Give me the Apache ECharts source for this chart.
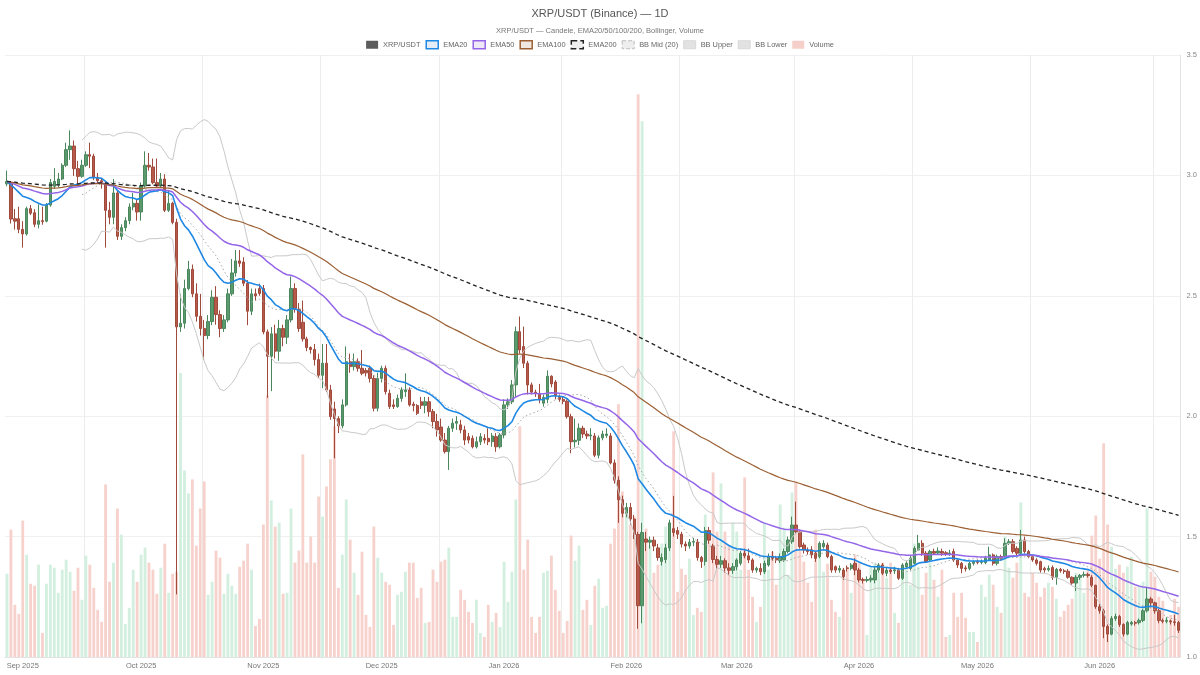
<!DOCTYPE html>
<html>
<head>
<meta charset="utf-8">
<title>XRP/USDT (Binance) — 1D</title>
<script src="https://cdn.jsdelivr.net/npm/echarts@6/dist/echarts.min.js"></script>
<style>
  html, body { margin: 0; padding: 0; background: #fff; }
  #chart { width: 1200px; height: 675px; }
</style>
</head>
<body>
<div id="chart"></div>
<script>
// first day of the daily series
const startDate = '2025-08-28';
const monthNames = ['Jan', 'Feb', 'Mar', 'Apr', 'May', 'Jun', 'Jul', 'Aug', 'Sep', 'Oct', 'Nov', 'Dec'];

// daily candles: [open, close, low, high]
const candles = [
  [2.965, 2.975, 2.955, 3.02], [2.97, 2.819, 2.80, 2.975], [2.82, 2.81, 2.775, 2.86], [2.82, 2.776, 2.76, 2.87],
  [2.776, 2.757, 2.70, 2.81], [2.757, 2.862, 2.75, 2.87], [2.862, 2.843, 2.835, 2.877], [2.845, 2.797, 2.785, 2.86],
  [2.797, 2.812, 2.78, 2.88], [2.812, 2.808, 2.795, 2.87], [2.81, 2.877, 2.805, 2.885], [2.877, 2.97, 2.87, 2.985],
  [2.955, 2.975, 2.945, 3.03], [2.96, 2.985, 2.95, 3.01], [2.985, 3.042, 2.98, 3.05], [3.042, 3.107, 3.035, 3.136],
  [3.107, 3.122, 3.065, 3.187], [3.122, 3.028, 2.998, 3.145], [3.028, 2.996, 2.955, 3.06], [2.996, 3.042, 2.99, 3.065],
  [3.042, 3.086, 3.035, 3.10], [3.086, 3.08, 3.03, 3.136], [3.08, 2.992, 2.98, 3.09], [2.992, 2.978, 2.965, 3.01],
  [2.978, 2.97, 2.945, 2.99], [2.963, 2.855, 2.70, 2.975], [2.855, 2.826, 2.797, 2.89], [2.826, 2.927, 2.797, 2.985],
  [2.927, 2.747, 2.732, 2.94], [2.747, 2.783, 2.732, 2.797], [2.783, 2.812, 2.768, 2.826], [2.812, 2.869, 2.797, 2.884],
  [2.869, 2.884, 2.855, 2.927], [2.884, 2.848, 2.812, 2.90], [2.848, 2.956, 2.812, 2.97], [2.956, 3.042, 2.949, 3.10],
  [3.042, 3.035, 3.02, 3.093], [3.035, 2.97, 2.963, 3.07], [2.97, 2.956, 2.949, 3.07], [2.956, 2.985, 2.95, 3.01],
  [2.985, 2.855, 2.848, 3.005], [2.855, 2.884, 2.848, 2.94], [2.884, 2.805, 2.797, 2.89], [2.805, 2.371, 1.26, 2.82],
  [2.371, 2.386, 2.35, 2.508], [2.386, 2.53, 2.364, 2.567], [2.53, 2.61, 2.523, 2.645], [2.61, 2.508, 2.494, 2.63],
  [2.508, 2.415, 2.393, 2.552], [2.415, 2.364, 2.335, 2.508], [2.364, 2.335, 2.234, 2.40], [2.335, 2.393, 2.32, 2.42],
  [2.393, 2.494, 2.378, 2.523], [2.494, 2.422, 2.38, 2.54], [2.422, 2.364, 2.328, 2.44], [2.364, 2.40, 2.35, 2.42],
  [2.40, 2.508, 2.39, 2.53], [2.508, 2.595, 2.50, 2.653], [2.595, 2.645, 2.58, 2.69], [2.645, 2.635, 2.62, 2.69],
  [2.64, 2.552, 2.54, 2.66], [2.552, 2.436, 2.378, 2.565], [2.436, 2.508, 2.42, 2.53], [2.508, 2.50, 2.48, 2.53],
  [2.53, 2.51, 2.50, 2.55], [2.53, 2.35, 2.34, 2.545], [2.35, 2.249, 2.076, 2.36], [2.249, 2.342, 2.104, 2.37],
  [2.342, 2.27, 2.24, 2.38], [2.27, 2.364, 2.23, 2.40], [2.364, 2.328, 2.29, 2.38], [2.328, 2.40, 2.30, 2.42],
  [2.40, 2.53, 2.39, 2.58], [2.53, 2.444, 2.43, 2.552], [2.444, 2.364, 2.35, 2.47], [2.39, 2.321, 2.31, 2.48],
  [2.321, 2.285, 2.27, 2.33], [2.285, 2.277, 2.26, 2.29], [2.277, 2.235, 2.21, 2.30], [2.235, 2.17, 2.16, 2.26],
  [2.17, 2.22, 2.116, 2.30], [2.22, 2.109, 2.10, 2.30], [2.109, 1.998, 1.985, 2.13], [2.03, 1.99, 1.825, 2.06],
  [1.99, 1.96, 1.93, 2.0], [1.96, 2.047, 1.95, 2.07], [2.047, 2.226, 2.04, 2.29], [2.226, 2.206, 2.18, 2.26],
  [2.206, 2.226, 2.19, 2.26], [2.226, 2.199, 2.185, 2.24], [2.199, 2.178, 2.17, 2.275], [2.19, 2.18, 2.165, 2.20],
  [2.199, 2.157, 2.14, 2.21], [2.157, 2.033, 2.02, 2.17], [2.033, 2.157, 2.02, 2.18], [2.157, 2.199, 2.14, 2.21],
  [2.199, 2.102, 2.09, 2.21], [2.095, 2.04, 2.03, 2.11], [2.047, 2.04, 2.03, 2.07], [2.04, 2.074, 2.035, 2.09],
  [2.074, 2.109, 2.06, 2.12], [2.102, 2.109, 2.08, 2.178], [2.109, 2.047, 2.04, 2.12], [2.05, 2.044, 2.02, 2.06],
  [2.044, 2.012, 2.005, 2.05], [2.06, 2.045, 2.03, 2.08], [2.045, 2.06, 2.012, 2.08], [2.06, 2.019, 1.998, 2.08],
  [2.019, 1.978, 1.95, 2.03], [1.978, 1.943, 1.915, 2.01], [1.955, 1.901, 1.894, 1.99], [1.901, 1.853, 1.845, 1.93],
  [1.853, 1.95, 1.777, 1.96], [1.95, 1.971, 1.935, 1.99], [1.971, 1.978, 1.943, 2.0], [1.964, 1.943, 1.929, 1.985],
  [1.943, 1.901, 1.88, 1.96], [1.915, 1.901, 1.887, 1.93], [1.908, 1.873, 1.866, 1.92], [1.873, 1.894, 1.866, 1.915],
  [1.894, 1.915, 1.88, 1.93], [1.908, 1.901, 1.887, 1.925], [1.908, 1.894, 1.88, 1.95], [1.894, 1.918, 1.873, 1.93],
  [1.915, 1.873, 1.852, 1.93], [1.873, 1.922, 1.866, 1.93], [1.922, 2.047, 1.908, 2.07], [2.047, 2.06, 2.03, 2.074],
  [2.06, 2.13, 2.05, 2.15], [2.13, 2.351, 2.08, 2.372], [2.351, 2.275, 2.26, 2.414], [2.289, 2.22, 2.20, 2.372],
  [2.22, 2.13, 2.09, 2.23], [2.13, 2.10, 2.09, 2.14], [2.10, 2.094, 2.08, 2.11], [2.094, 2.07, 2.054, 2.134],
  [2.054, 2.078, 2.04, 2.09], [2.07, 2.166, 2.054, 2.19], [2.166, 2.134, 2.12, 2.17], [2.142, 2.086, 2.07, 2.15],
  [2.078, 2.07, 2.06, 2.09], [2.07, 2.062, 2.05, 2.08], [2.062, 1.998, 1.99, 2.07], [1.998, 1.894, 1.846, 2.01],
  [1.894, 1.90, 1.87, 1.99], [1.90, 1.95, 1.88, 1.97], [1.95, 1.926, 1.91, 1.96], [1.926, 1.918, 1.905, 1.94],
  [1.918, 1.922, 1.90, 1.95], [1.918, 1.838, 1.83, 1.93], [1.838, 1.91, 1.825, 1.92], [1.91, 1.926, 1.90, 1.94],
  [1.92, 1.926, 1.91, 1.95], [1.918, 1.806, 1.80, 1.93], [1.806, 1.734, 1.72, 1.82], [1.734, 1.653, 1.557, 1.75],
  [1.653, 1.597, 1.58, 1.67], [1.597, 1.621, 1.58, 1.64], [1.621, 1.573, 1.55, 1.64], [1.573, 1.509, 1.49, 1.59],
  [1.509, 1.213, 1.117, 1.52], [1.213, 1.517, 1.14, 1.557], [1.49, 1.477, 1.44, 1.52], [1.477, 1.485, 1.45, 1.50],
  [1.485, 1.461, 1.44, 1.50], [1.453, 1.413, 1.40, 1.47], [1.397, 1.413, 1.38, 1.43], [1.405, 1.453, 1.39, 1.47],
  [1.453, 1.557, 1.44, 1.57], [1.533, 1.517, 1.50, 1.669], [1.525, 1.51, 1.49, 1.54], [1.51, 1.469, 1.455, 1.52],
  [1.469, 1.461, 1.44, 1.48], [1.461, 1.477, 1.45, 1.49], [1.477, 1.48, 1.46, 1.495], [1.477, 1.413, 1.40, 1.49],
  [1.413, 1.397, 1.37, 1.42], [1.397, 1.525, 1.38, 1.54], [1.525, 1.485, 1.47, 1.54], [1.461, 1.405, 1.39, 1.47],
  [1.405, 1.385, 1.36, 1.42], [1.385, 1.40, 1.37, 1.42], [1.40, 1.37, 1.35, 1.41], [1.37, 1.36, 1.34, 1.39],
  [1.36, 1.375, 1.345, 1.39], [1.375, 1.403, 1.36, 1.41], [1.389, 1.431, 1.38, 1.44], [1.431, 1.42, 1.41, 1.45],
  [1.42, 1.403, 1.39, 1.45], [1.403, 1.361, 1.35, 1.41], [1.361, 1.368, 1.35, 1.375], [1.368, 1.354, 1.34, 1.389],
  [1.354, 1.389, 1.345, 1.40], [1.382, 1.417, 1.375, 1.43], [1.417, 1.41, 1.40, 1.44], [1.41, 1.403, 1.39, 1.42],
  [1.40, 1.417, 1.39, 1.43], [1.403, 1.438, 1.395, 1.45], [1.438, 1.486, 1.43, 1.50], [1.479, 1.548, 1.47, 1.583],
  [1.548, 1.52, 1.51, 1.645], [1.52, 1.458, 1.45, 1.53], [1.465, 1.444, 1.43, 1.475], [1.444, 1.438, 1.425, 1.455],
  [1.445, 1.424, 1.41, 1.46], [1.431, 1.41, 1.395, 1.44], [1.417, 1.472, 1.41, 1.48], [1.458, 1.472, 1.45, 1.485],
  [1.465, 1.417, 1.41, 1.475], [1.417, 1.361, 1.35, 1.425], [1.375, 1.361, 1.35, 1.38], [1.361, 1.368, 1.35, 1.38],
  [1.361, 1.334, 1.32, 1.37], [1.37, 1.368, 1.355, 1.38], [1.368, 1.382, 1.36, 1.39], [1.389, 1.361, 1.34, 1.41],
  [1.361, 1.32, 1.31, 1.37], [1.322, 1.318, 1.305, 1.33], [1.318, 1.322, 1.31, 1.335], [1.32, 1.327, 1.31, 1.34],
  [1.32, 1.361, 1.306, 1.375], [1.361, 1.382, 1.35, 1.39], [1.382, 1.348, 1.34, 1.39], [1.348, 1.361, 1.335, 1.37],
  [1.361, 1.355, 1.345, 1.37], [1.358, 1.362, 1.345, 1.375], [1.361, 1.327, 1.32, 1.37], [1.327, 1.382, 1.32, 1.39],
  [1.375, 1.389, 1.37, 1.40], [1.368, 1.41, 1.36, 1.42], [1.389, 1.451, 1.385, 1.46], [1.444, 1.472, 1.44, 1.507],
  [1.472, 1.431, 1.42, 1.485], [1.431, 1.396, 1.39, 1.44], [1.403, 1.438, 1.395, 1.445], [1.438, 1.431, 1.425, 1.45],
  [1.432, 1.44, 1.425, 1.455], [1.438, 1.431, 1.42, 1.45], [1.433, 1.428, 1.42, 1.44], [1.428, 1.432, 1.42, 1.445],
  [1.438, 1.403, 1.395, 1.45], [1.403, 1.382, 1.37, 1.41], [1.389, 1.368, 1.348, 1.395], [1.37, 1.366, 1.355, 1.38],
  [1.368, 1.389, 1.36, 1.395], [1.389, 1.396, 1.38, 1.40], [1.396, 1.393, 1.385, 1.405], [1.393, 1.396, 1.385, 1.405],
  [1.392, 1.41, 1.385, 1.42], [1.403, 1.424, 1.40, 1.458], [1.424, 1.389, 1.38, 1.43], [1.389, 1.417, 1.38, 1.425],
  [1.417, 1.41, 1.40, 1.425], [1.417, 1.472, 1.41, 1.493], [1.472, 1.479, 1.465, 1.49], [1.479, 1.438, 1.43, 1.49],
  [1.451, 1.431, 1.42, 1.46], [1.431, 1.486, 1.425, 1.528], [1.486, 1.438, 1.43, 1.50], [1.438, 1.417, 1.41, 1.445],
  [1.417, 1.403, 1.395, 1.42], [1.403, 1.389, 1.38, 1.41], [1.396, 1.361, 1.35, 1.40], [1.368, 1.362, 1.35, 1.375],
  [1.362, 1.368, 1.355, 1.38], [1.372, 1.331, 1.32, 1.38], [1.331, 1.364, 1.30, 1.37], [1.364, 1.358, 1.35, 1.37],
  [1.358, 1.355, 1.345, 1.365], [1.356, 1.331, 1.325, 1.365], [1.331, 1.307, 1.30, 1.335], [1.307, 1.331, 1.274, 1.34],
  [1.331, 1.339, 1.32, 1.345], [1.339, 1.343, 1.33, 1.355], [1.343, 1.338, 1.33, 1.35], [1.331, 1.298, 1.29, 1.34],
  [1.298, 1.209, 1.20, 1.30], [1.209, 1.192, 1.18, 1.22], [1.192, 1.127, 1.078, 1.20], [1.127, 1.095, 1.062, 1.135],
  [1.095, 1.16, 1.09, 1.17], [1.16, 1.168, 1.15, 1.18], [1.168, 1.135, 1.125, 1.175], [1.135, 1.095, 1.085, 1.14],
  [1.095, 1.143, 1.09, 1.15], [1.137, 1.143, 1.13, 1.15], [1.143, 1.14, 1.13, 1.15], [1.143, 1.152, 1.135, 1.16],
  [1.152, 1.192, 1.145, 1.20], [1.192, 1.241, 1.185, 1.29], [1.241, 1.225, 1.21, 1.25], [1.225, 1.192, 1.18, 1.23],
  [1.192, 1.152, 1.14, 1.20], [1.152, 1.148, 1.14, 1.16], [1.148, 1.152, 1.14, 1.165], [1.15, 1.146, 1.135, 1.155],
  [1.146, 1.143, 1.13, 1.175], [1.143, 1.111, 1.10, 1.15]
];

// daily volume (millions XRP)
const volumes = [
  83, 127, 52, 43, 136, 102, 73, 71, 92, 24, 73, 92, 89, 64, 87, 97, 85, 66, 89, 57, 101, 92, 69, 47, 35, 172, 75,
  94, 148, 122, 33, 49, 87, 75, 102, 109, 94, 87, 63, 89, 113, 64, 83, 85, 283, 186, 163, 177, 111, 148, 175, 62, 75,
  106, 99, 63, 83, 71, 63, 90, 96, 113, 87, 31, 38, 132, 261, 156, 130, 134, 63, 64, 148, 94, 106, 202, 94, 120,
  94, 160, 140, 170, 197, 230, 69, 102, 157, 117, 84, 62, 105, 42, 30, 130, 99, 84, 75, 72, 32, 62, 65, 85, 94, 94, 59,
  69, 34, 35, 87, 75, 95, 97, 109, 40, 40, 67, 57, 45, 34, 57, 24, 20, 52, 35, 44, 30, 95, 55, 85, 157, 230, 87, 117,
  40, 24, 40, 84, 86, 101, 67, 46, 24, 36, 121, 96, 111, 47, 57, 32, 71, 78, 49, 51, 113, 128, 252, 165, 148, 132, 140,
  561, 534,
  128, 111, 84, 92, 113, 130, 121, 225, 65, 88, 82, 98, 42, 49, 45, 142, 115, 184, 125, 173, 125, 111, 134,
  125, 87, 179, 87, 60, 35, 50, 134, 87, 105, 72, 152, 129, 82, 164, 175, 107, 95, 74, 55, 127, 105, 85, 93, 57, 45, 40, 85,
  90, 64, 102, 94, 77, 22, 90, 94, 84, 94, 79, 94, 44, 34, 87, 94, 72, 113, 90, 62, 84, 94, 77, 60, 87,
  20, 22, 64, 40, 64, 39, 25, 25, 15, 72, 60, 82, 72, 50, 44, 120, 89, 79, 94, 154, 64, 60, 84, 74, 60, 69, 74,
  70, 58, 40, 46, 52, 58, 84, 82, 64, 88, 121, 141, 98, 213, 132, 110, 88, 92, 84, 90, 100, 70, 72, 75, 148, 85, 80, 60,
  56, 40, 42, 58, 50
];

const emaPeriods = [20, 50, 100, 200];
const bbPeriod = 20;

// build the day categories
const dates = [];
const d0 = new Date(startDate + 'T00:00:00Z');
for (let i = 0; i < candles.length; i++) {
  const d = new Date(d0.getTime() + i * 86400000);
  dates.push(d.toISOString().slice(0, 10));
}

const closes = candles.map(c => c[1]);

function ema(values, n) {
  const k = 2 / (n + 1);
  let prev = values[0];
  return values.map((v, i) => {
    prev = i === 0 ? v : v * k + prev * (1 - k);
    return +prev.toFixed(4);
  });
}

function bollinger(values, n) {
  const mid = [], up = [], low = [];
  for (let i = 0; i < values.length; i++) {
    if (i < n - 1) { mid.push('-'); up.push('-'); low.push('-'); continue; }
    const win = values.slice(i - n + 1, i + 1);
    const m = win.reduce((a, b) => a + b, 0) / n;
    const sd = Math.sqrt(win.reduce((a, b) => a + (b - m) * (b - m), 0) / n);
    mid.push(+m.toFixed(4));
    up.push(+(m + 2 * sd).toFixed(4));
    low.push(+(m - 2 * sd).toFixed(4));
  }
  return { mid, up, low };
}

const emas = emaPeriods.map(p => ema(closes, p));
const bb = bollinger(closes, bbPeriod);

const upColor = '#5a9a6c', upBorder = '#4b875c';
const downColor = '#b75a4b', downBorder = '#a04a3c';

const volData = volumes.map((v, i) => ({
  value: v,
  itemStyle: { color: candles[i][1] >= candles[i][0] ? '#d3efdf' : '#f7d2cd' }
}));

function lineSeries(name, data, color, width, type) {
  return {
    name: name,
    type: 'line',
    data: data,
    symbol: 'none',
    smooth: false,
    z: 4,
    lineStyle: { color: color, width: width, type: type || 'solid' },
    itemStyle: { color: color },
    emphasis: { disabled: true }
  };
}

const chart = echarts.init(document.getElementById('chart'));
chart.setOption({
  animation: false,
  backgroundColor: '#fff',
  title: {
    text: 'XRP/USDT (Binance) — 1D',
    subtext: 'XRP/USDT — Candele, EMA20/50/100/200, Bollinger, Volume',
    left: 'center',
    top: 3,
    itemGap: 8,
    textStyle: { fontSize: 11, fontWeight: 'normal', color: '#555' },
    subtextStyle: { fontSize: 7.5, color: '#777' }
  },
  legend: {
    top: 35,
    left: 'center',
    icon: 'rect',
    itemWidth: 12,
    itemHeight: 8,
    itemGap: 5,
    textStyle: { fontSize: 7.4, color: '#666' },
    data: [
      { name: 'XRP/USDT', itemStyle: { color: '#5c5c5c', borderWidth: 0 } },
      { name: 'EMA20', itemStyle: { color: '#e4edf6', borderColor: '#1e88e5', borderWidth: 1.5 } },
      { name: 'EMA50', itemStyle: { color: '#eee8f7', borderColor: '#9465e8', borderWidth: 1.5 } },
      { name: 'EMA100', itemStyle: { color: '#efe8e1', borderColor: '#9b5f33', borderWidth: 1.5 } },
      { name: 'EMA200', itemStyle: { color: '#eeeeee', borderColor: '#222', borderWidth: 1.5, borderType: 'dashed' } },
      { name: 'BB Mid (20)', itemStyle: { color: '#eeeeee', borderColor: '#bbb', borderWidth: 1, borderType: 'dashed' } },
      { name: 'BB Upper', itemStyle: { color: '#e2e2e2', borderColor: '#d8d8d8', borderWidth: 1 } },
      { name: 'BB Lower', itemStyle: { color: '#e2e2e2', borderColor: '#d8d8d8', borderWidth: 1 } },
      { name: 'Volume', itemStyle: { color: '#f6cfca', borderWidth: 0 } }
    ]
  },
  grid: { left: 5, right: 19, top: 55, bottom: 18 },
  xAxis: {
    type: 'category',
    data: dates,
    boundaryGap: true,
    axisLine: { show: true, lineStyle: { color: '#e3e3e3' } },
    axisTick: { show: false },
    axisLabel: {
      fontSize: 7.5,
      color: '#777',
      margin: 5,
      interval: (idx, val) => val.slice(8) === '01',
      formatter: val => {
        const d = new Date(val + 'T00:00:00Z');
        return monthNames[d.getUTCMonth()] + ' ' + d.getUTCFullYear();
      }
    },
    splitLine: {
      show: true,
      interval: idx => [20, 50, 80, 110, 141, 171, 200, 230, 260, 291].indexOf(idx) >= 0,
      lineStyle: { color: '#ececec' }
    }
  },
  yAxis: [
    {
      type: 'value',
      position: 'right',
      min: 1,
      max: 3.5,
      interval: 0.5,
      axisLine: { show: true, lineStyle: { color: '#e3e3e3' } },
      axisTick: { show: false },
      axisLabel: { fontSize: 7.5, color: '#888', margin: 6, formatter: v => v.toFixed(1) },
      splitLine: { lineStyle: { color: '#f0f0f0' } }
    },
    {
      type: 'value',
      min: 0,
      max: 600,
      show: false,
      splitLine: { show: false }
    }
  ],
  series: [
    {
      name: 'Volume',
      type: 'bar',
      yAxisIndex: 1,
      data: volData,
      barWidth: '72%',
      z: 1,
      itemStyle: { color: '#f6cfca' },
      emphasis: { disabled: true }
    },
    lineSeries('BB Upper', bb.up, '#c9c9c9', 1),
    lineSeries('BB Lower', bb.low, '#c9c9c9', 1),
    lineSeries('BB Mid (20)', bb.mid, '#a8a8a8', 1, [1.5, 2.5]),
    {
      name: 'XRP/USDT',
      type: 'candlestick',
      data: candles,
      barWidth: '72%',
      z: 3,
      itemStyle: {
        color: upColor,
        color0: downColor,
        borderColor: upBorder,
        borderColor0: downBorder,
        borderWidth: 1
      },
      emphasis: { disabled: true }
    },
    lineSeries('EMA20', emas[0], '#1e88e5', 1.6),
    lineSeries('EMA50', emas[1], '#9465e8', 1.5),
    lineSeries('EMA100', emas[2], '#9b5f33', 1.2),
    lineSeries('EMA200', emas[3], '#222222', 1.3, [4, 3])
  ]
});
</script>
</body>
</html>
